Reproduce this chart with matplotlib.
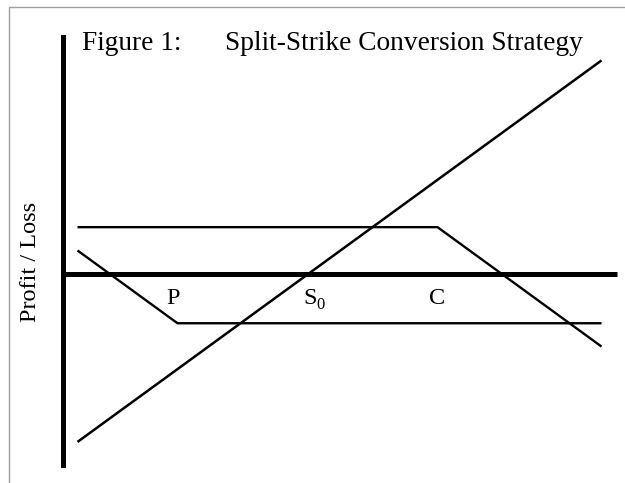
import matplotlib.pyplot as plt
from matplotlib.lines import Line2D

# payoff diagram, values (stock price vs profit)
stock_x = [77, 129.4]
stock_pl = [-23, 29.4]
put_x = [77, 87, 129.4]
put_pl = [3.3, -6.7, -6.7]
call_x = [77, 113, 129.4]
call_pl = [6.5, 6.5, -9.9]
strike_labels = ['P', 'S', 'C']
strike_pos = [86.6, 100.3, 113.0]

W, H = 625, 483
fig = plt.figure(figsize=(W / 100, H / 100), dpi=100)
plt.rcParams['font.family'] = 'Liberation Serif'

def fx(px):
    return px / W

def fy(py):
    return 1 - py / H

# axes box matches the two heavy axis lines
ax = fig.add_axes([fx(62.5), fy(465), fx(617.3) - fx(62.5), fy(36.7) - fy(465)])
ax.set_xlim(75.5, 130.98)
ax.set_ylim(-26.17, 32.66)
for s in ['top', 'right']:
    ax.spines[s].set_visible(False)
ax.spines['bottom'].set_position(('data', 0))
ax.spines['left'].set_linewidth(3.6)
ax.spines['bottom'].set_linewidth(3.6)
ax.spines['bottom'].set_capstyle('butt')
ax.set_xticks([])
ax.set_yticks([])
ax.patch.set_visible(False)

ax.plot(stock_x, stock_pl, color='black', lw=1.8, solid_capstyle='butt')
ax.plot(put_x, put_pl, color='black', lw=1.7, solid_capstyle='butt')
ax.plot(call_x, call_pl, color='black', lw=1.7, solid_capstyle='butt')

# strike labels under the zero line
for lab, xpos in zip(strike_labels, strike_pos):
    ax.text(xpos, -4.0, lab, fontsize=17.5, ha='center', va='baseline')
ax.text(strike_pos[1] + 0.6, -4.7, '0', fontsize=12, ha='left', va='baseline')

# titles and label
fig.text(fx(82), fy(50), 'Figure 1:', fontsize=19.7, va='baseline')
fig.text(fx(225), fy(50), 'Split-Strike Conversion Strategy', fontsize=19.7, va='baseline')
fig.text(fx(31), fy(262), 'Profit / Loss', fontsize=17.5, rotation=90, ha='center', va='center')

# thin gray frame (only top and left visible)
fig.add_artist(Line2D([fx(9.3), fx(9.3), 1.0], [0.0, fy(6.7), fy(6.7)],
                      transform=fig.transFigure, color='#a0a0a0', lw=1.0))

fig.savefig('out.png', dpi=100)
